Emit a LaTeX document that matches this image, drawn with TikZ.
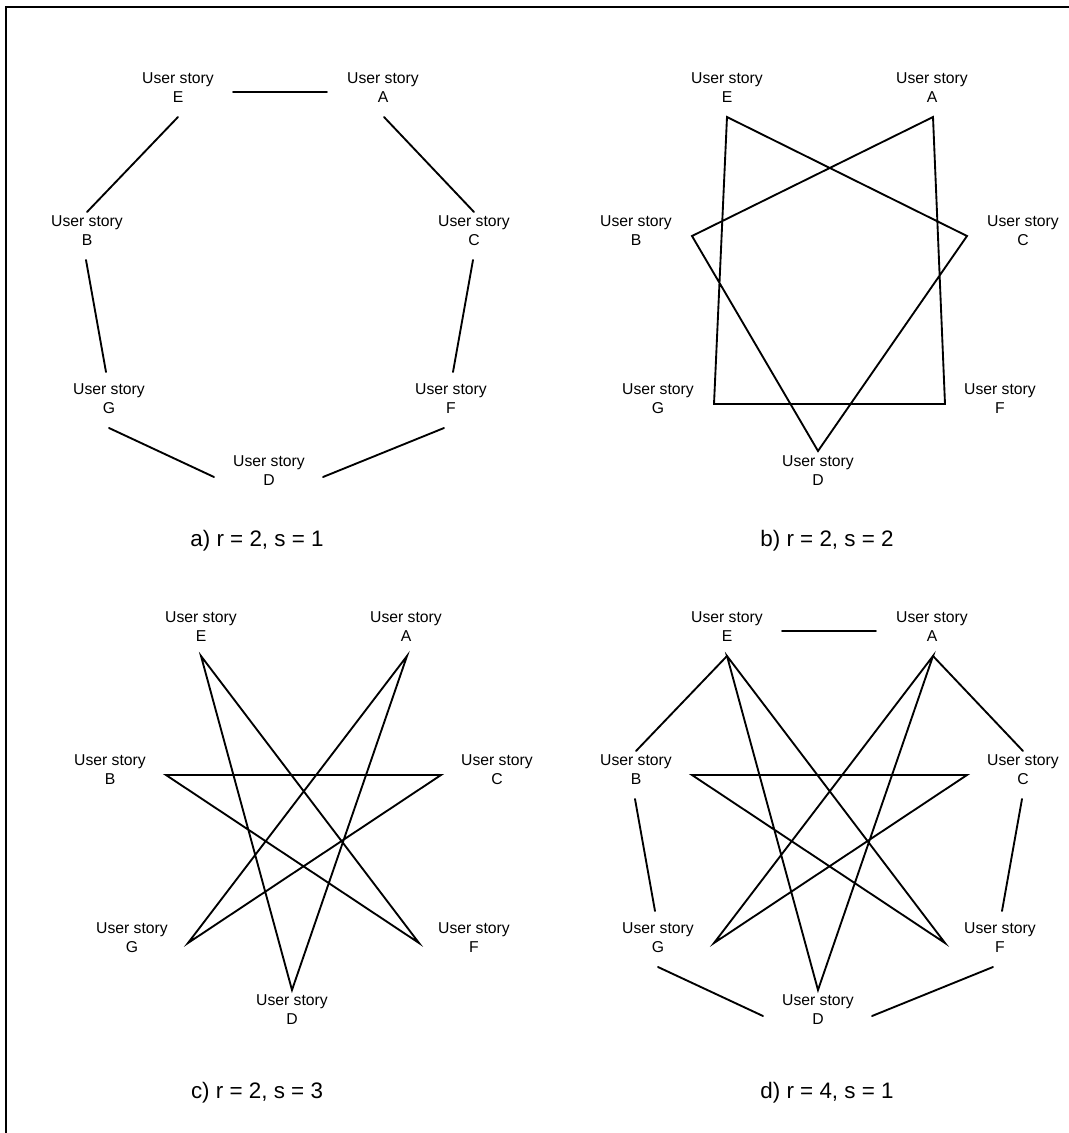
\documentclass[tikz,border=0pt]{standalone}
\usepackage{fontspec}
\setmainfont{Liberation Sans}
\newcommand\panelnodes[1]{%
  \node[story] (#1E) at (178,88) {User story\\E};
  \node[story] (#1A) at (383,88) {User story\\A};
  \node[story] (#1B) at (87,231) {User story\\B};
  \node[story] (#1C) at (474,231) {User story\\C};
  \node[story] (#1G) at (109,399) {User story\\G};
  \node[story] (#1F) at (451,399) {User story\\F};
  \node[story] (#1D) at (269,471) {User story\\D};
  \coordinate (#1vE) at (178,117);
  \coordinate (#1vA) at (384,117);
  \coordinate (#1vB) at (143,236);
  \coordinate (#1vC) at (418,236);
  \coordinate (#1vG) at (165,404);
  \coordinate (#1vF) at (396,404);
  \coordinate (#1vD) at (269,451);
  \coordinate (#1eEA) at (233,92);  \coordinate (#1eAE) at (327,92);
  \coordinate (#1eBE) at (87,212);  \coordinate (#1eCA) at (474,212);
  \coordinate (#1eBG) at (86,260);  \coordinate (#1eGB) at (106,372);
  \coordinate (#1eCF) at (473,260); \coordinate (#1eFC) at (453,372);
  \coordinate (#1eGD) at (109,428); \coordinate (#1eDG) at (214,477);
  \coordinate (#1eFD) at (444,428); \coordinate (#1eDF) at (323,477);
}
\begin{document}
\begin{tikzpicture}[x=0.75pt,y=-0.75pt,
  story/.style={align=center,inner sep=0pt,font=\fontsize{11.8}{14.25}\selectfont},
  caption/.style={inner sep=0pt,anchor=base,font=\fontsize{16.8}{20}\selectfont},
  edge/.style={line width=1.4pt,line cap=round,line join=miter},
  frame/.style={line width=1.5pt}]
\useasboundingbox (0,0) rectangle (1069,1133);
\fill[white] (0,0) rectangle (1069,1133);
\draw[frame] (1069,7) -- (6,7) -- (6,1133);

% panel a
\begin{scope}
  \panelnodes{a}
  \draw[edge] (aeEA) -- (aeAE);
  \draw[edge] (avE) -- (aeBE);
  \draw[edge] (avA) -- (aeCA);
  \draw[edge] (aeBG) -- (aeGB);
  \draw[edge] (aeCF) -- (aeFC);
  \draw[edge] (aeGD) -- (aeDG);
  \draw[edge] (aeFD) -- (aeDF);
\end{scope}
\node[caption] (capa) at (257,546) {a) r = 2, s = 1};

% panel b
\begin{scope}[shift={(549,0)}]
  \panelnodes{b}
  \draw[edge] (bvE) -- (bvG) -- (bvF) -- (bvA) -- (bvB) -- (bvD) -- (bvC) -- cycle;
\end{scope}
\node[caption] (capb) at (827,546) {b) r = 2, s = 2};

% panel c
\begin{scope}[shift={(23,539)}]
  \panelnodes{c}
  \draw[edge] (cvE) -- (cvF) -- (cvB) -- (cvC) -- (cvG) -- (cvA) -- (cvD) -- cycle;
\end{scope}
\node[caption] (capc) at (257,1098) {c) r = 2, s = 3};

% panel d
\begin{scope}[shift={(549,539)}]
  \panelnodes{d}
  \draw[edge] (deEA) -- (deAE);
  \draw[edge] (dvE) -- (deBE);
  \draw[edge] (dvA) -- (deCA);
  \draw[edge] (deBG) -- (deGB);
  \draw[edge] (deCF) -- (deFC);
  \draw[edge] (deGD) -- (deDG);
  \draw[edge] (deFD) -- (deDF);
  \draw[edge] (dvE) -- (dvF) -- (dvB) -- (dvC) -- (dvG) -- (dvA) -- (dvD) -- cycle;
\end{scope}
\node[caption] (capd) at (827,1098) {d) r = 4, s = 1};
\end{tikzpicture}
\end{document}
